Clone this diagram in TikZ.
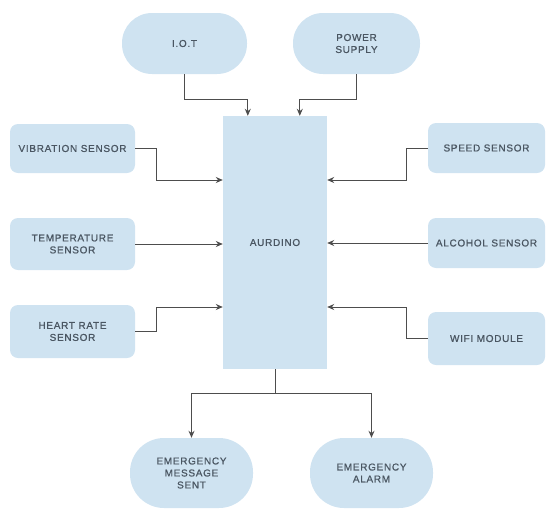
\documentclass[tikz,border=0pt]{standalone}
\usepackage{fontspec}
\setmainfont{Liberation Sans}
\newfontfamily\labfont[LetterSpace=7,FakeBold=0.8]{Liberation Sans}
\usetikzlibrary{arrows.meta}
\definecolor{boxfill}{HTML}{CFE3F1}
\definecolor{txtcol}{HTML}{4A5662}
\definecolor{linecol}{HTML}{4D4D4D}
\begin{document}
\begin{tikzpicture}[x=1pt,y=-1pt,
  base/.style={fill=boxfill,draw=none,inner sep=2pt,align=center,text=txtcol,
    font=\labfont\fontsize{10}{12}\selectfont},
  sidebox/.style={base,rounded corners=8pt},
  pill/.style={base,rounded corners=30pt},
  bigpill/.style={base,rounded corners=34pt},
  mainbox/.style={base},
  conn/.style={draw=linecol,line width=1pt,-{Stealth[length=7pt,width=6pt]}},
  plain/.style={draw=linecol,line width=1pt}]
\useasboundingbox (0,0) rectangle (549,509);

\node[pill,minimum width=125pt,minimum height=61pt] (iot) at (184.5,43.5) {I.O.T};
\node[pill,minimum width=127pt,minimum height=61pt] (power) at (356.5,43.5) {POWER\\SUPPLY};
\node[mainbox,minimum width=104pt,minimum height=253pt] (ard) at (275,242.5) {AURDINO};

\node[sidebox,minimum width=125pt,minimum height=49pt] (vib) at (72.5,148.5) {VIBRATION SENSOR};
\node[sidebox,minimum width=125pt,minimum height=52pt] (temp) at (72.5,244) {TEMPERATURE\\SENSOR};
\node[sidebox,minimum width=125pt,minimum height=53pt] (heart) at (72.5,331.5) {HEART RATE\\SENSOR};

\node[sidebox,minimum width=117pt,minimum height=50pt] (speed) at (486.5,148) {SPEED SENSOR};
\node[sidebox,minimum width=117pt,minimum height=50pt] (alc) at (486.5,243) {ALCOHOL SENSOR};
\node[sidebox,minimum width=117pt,minimum height=53pt] (wifi) at (486.5,338.5) {WIFI MODULE};

\node[bigpill,minimum width=123pt,minimum height=70pt] (ems) at (191.5,473) {EMERGENCY\\MESSAGE\\SENT};
\node[bigpill,minimum width=123pt,minimum height=70pt] (alarm) at (371.5,473) {EMERGENCY\\ALARM};

\draw[conn] (iot.south) -- ++(0,25) -| ([xshift=25pt]ard.north west);
\draw[conn] (power.south) -- ++(0,25) -| ([xshift=77pt]ard.north west);

\draw[conn] (vib.east) -- ++(21,0) |- (ard.west |- 0,180);
\draw[conn] (temp.east) -- (temp.east -| ard.west);
\draw[conn] (heart.east) -- ++(21,0) |- (ard.west |- 0,307);

\draw[conn] (speed.west) -- ++(-21,0) |- (ard.east |- 0,180);
\draw[conn] (alc.west) -- (alc.west -| ard.east);
\draw[conn] (wifi.west) -- ++(-21,0) |- (ard.east |- 0,307);

\draw[plain] (ard.south) -- ++(0,24) coordinate (j);
\draw[conn] (j) -| (ems.north);
\draw[conn] (j) -| (alarm.north);
\end{tikzpicture}
\end{document}
